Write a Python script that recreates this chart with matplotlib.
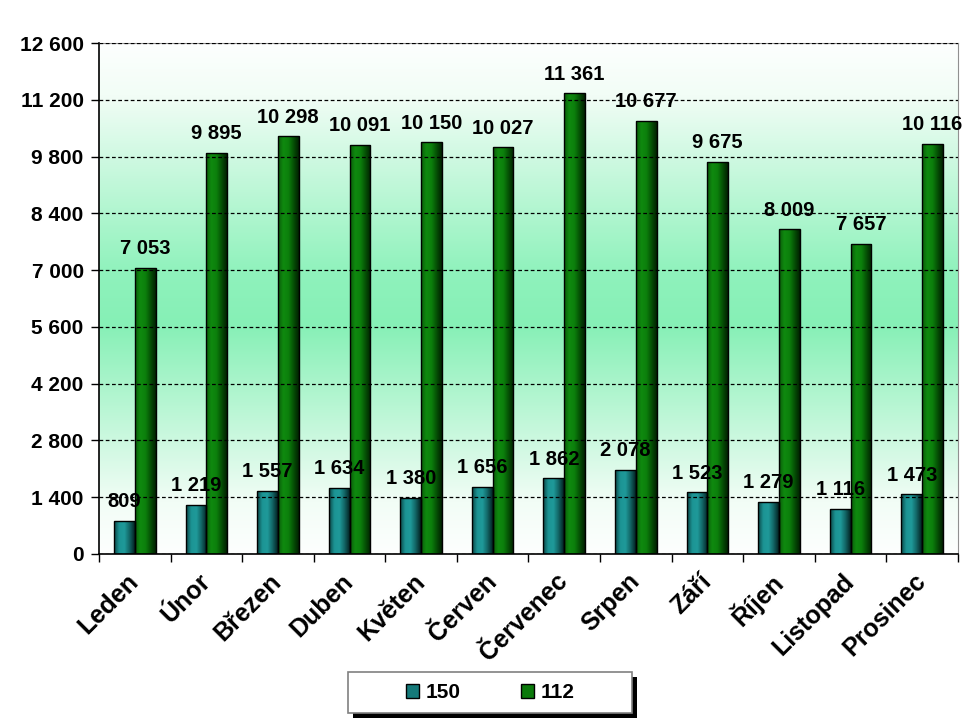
import numpy as np
import matplotlib
matplotlib.use("Agg")
from matplotlib import pyplot as plt
from matplotlib.colors import LinearSegmentedColormap
from matplotlib.patches import Rectangle, Patch

plt.rcParams['font.family'] = ['Liberation Sans', 'DejaVu Sans']
plt.rcParams['font.weight'] = 'bold'

months = ['Leden', 'Únor', 'Březen', 'Duben', 'Květen', 'Červen',
          'Červenec', 'Srpen', 'Září', 'Říjen', 'Listopad', 'Prosinec']
s150 = [809, 1219, 1557, 1634, 1380, 1656, 1862, 2078, 1523, 1279, 1116, 1473]
s112 = [7053, 9895, 10298, 10091, 10150, 10027, 11361, 10677, 9675, 8009, 7657, 10116]
yticks = [0, 1400, 2800, 4200, 5600, 7000, 8400, 9800, 11200, 12600]

teal_cmap = LinearSegmentedColormap.from_list(
    't', ['#0b4848', '#1c9494', '#1f9a9a', '#126464', '#032222'])
green_cmap = LinearSegmentedColormap.from_list(
    'g', ['#0a5c0a', '#0f8a0f', '#0c800c', '#055005', '#012001'])
bg_cmap = LinearSegmentedColormap.from_list(
    'bg', [(0.0, '#fdfffe'), (0.1, '#f2fdf6'), (0.45, '#8ff2bc'),
           (0.55, '#86f0b6'), (0.9, '#f2fdf6'), (1.0, '#fdfffe')])

fig = plt.figure(figsize=(9.8, 7.19), dpi=100)
ax = fig.add_axes([0.101, 0.2295, 0.8765, 0.7105])

xlim = (-0.5, 11.5)
ylim = (0, 12600)

# background gradient (white - mint - white)
grad = np.linspace(0, 1, 256).reshape(-1, 1)
ax.imshow(grad, cmap=bg_cmap, aspect='auto', origin='upper',
          extent=(xlim[0], xlim[1], ylim[0], ylim[1]), zorder=0)

ax.yaxis.grid(True, linestyle=(0, (3, 2)), color='black', linewidth=0.9, zorder=1)
ax.set_axisbelow(False)

x = np.arange(len(months))
w = 0.29
hgrad = np.linspace(0, 1, 64).reshape(1, -1)

def shaded_bars(xs, vals, cmap):
    bars = ax.bar(xs, vals, width=w, color='none', edgecolor='black',
                  linewidth=1.0, zorder=3)
    for b in bars:
        im = ax.imshow(hgrad, cmap=cmap, aspect='auto',
                       extent=(b.get_x(), b.get_x() + b.get_width(), 0, b.get_height()),
                       zorder=2)
        im.set_clip_path(b)
    return bars

b1 = shaded_bars(x - w / 2, s150, teal_cmap)
b2 = shaded_bars(x + w / 2, s112, green_cmap)

for xs, vals in ((x - w / 2, s150), (x + w / 2, s112)):
    for xi, v in zip(xs, vals):
        ax.annotate(f"{v:,}".replace(",", " "), (xi, v), xytext=(0, 7),
                    textcoords='offset points', ha='center', va='bottom',
                    fontsize=14.5, fontweight='bold', zorder=4)

ax.set_xlim(*xlim)
ax.set_ylim(*ylim)
ax.set_yticks(yticks)
ax.set_yticklabels([f"{t:,}".replace(",", " ") for t in yticks],
                   fontsize=15, fontweight='bold')
ax.tick_params(axis='y', direction='out', length=6, width=1, pad=5)

ax.set_xticks(np.arange(-0.5, 12, 1))
ax.set_xticklabels([])
ax.tick_params(axis='x', which='major', direction='out', length=6, width=1)
ax.set_xticks(x, minor=True)
ax.set_xticklabels(months, minor=True, rotation=45, ha='right',
                   rotation_mode='anchor', fontsize=18, fontweight='bold')
ax.tick_params(axis='x', which='minor', length=0, pad=17)
for lab in ax.get_xticklabels(minor=True):
    lab.set_va('center')

for s in ('top', 'right'):
    ax.spines[s].set_color('#909090')
for s in ('left', 'bottom'):
    ax.spines[s].set_color('black')
    ax.spines[s].set_linewidth(1.2)

handles = [Patch(facecolor='#157a7a', edgecolor='black', label='150'),
           Patch(facecolor='#0b7a0b', edgecolor='black', label='112')]
leg = fig.legend(handles=handles, loc='center', ncol=2,
                 bbox_to_anchor=(0.5, 0.0369), frameon=True, fancybox=False,
                 prop={'weight': 'bold', 'size': 15},
                 handlelength=0.65, handleheight=0.65, handletextpad=0.3,
                 columnspacing=2.9, borderpad=0.55, borderaxespad=0)
leg.set_zorder(5)

# legend box with hard black shadow
bbx0 = 348
bby0 = 719 - 713
shadow = Rectangle((bbx0 + 5, bby0 - 5), 284, 41, transform=None,
                   facecolor='black', edgecolor='none', zorder=4)
fig.patches.append(shadow)
box = Rectangle((bbx0, bby0), 284, 41, transform=None,
                facecolor='white', edgecolor='#808080', linewidth=1.2, zorder=4.5)
fig.patches.append(box)
leg.get_frame().set_visible(False)

fig.savefig('out.png', dpi=100)
